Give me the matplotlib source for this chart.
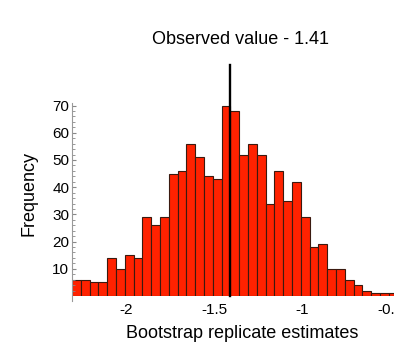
import numpy as np
import matplotlib
matplotlib.use("Agg")
import matplotlib.pyplot as plt
from matplotlib.ticker import FixedLocator

plt.rcParams['font.family'] = ['Liberation Sans', 'DejaVu Sans']

# histogram counts (bin width 0.05, first edge -2.31)
bin_start = -2.31
bin_width = 0.05
counts = [6, 6, 5, 5, 14, 10, 15, 14, 29, 26, 29, 45, 46, 56, 51, 44, 43, 70,
          68, 52, 56, 52, 34, 46, 35, 42, 29, 18, 19, 10, 10, 6, 4, 2, 1, 1, 1]
observed = -1.41
yticks = [10, 20, 30, 40, 50, 60, 70]
xticks = [-2, -1.5, -1, -0.5]
xticklabels = ['-2', '-1.5', '-1', '-0.5']

edges = bin_start + bin_width * np.arange(len(counts) + 1)

fig = plt.figure(figsize=(3.94, 3.47), dpi=100)
ax = fig.add_axes([72/394, 51/347, 1 - 72/394, 85*2.72/347])

ax.bar(edges[:-1], counts, width=bin_width, align='edge',
       color='#ff2200', edgecolor='#3a1a10', linewidth=0.8)
ax.plot([observed, observed], [0, 85], color='black', lw=1.7, clip_on=False)

ax.set_xlim(bin_start, -0.48)
ax.set_ylim(0, 85)

for s in ['top', 'right', 'bottom']:
    ax.spines[s].set_visible(False)
ax.spines['left'].set_color('#999999')
ax.spines['left'].set_bounds(-2, 70.8)

ax.set_yticks(yticks)
ax.yaxis.set_minor_locator(FixedLocator([v for v in range(2, 71, 2) if v % 10]))
ax.tick_params(axis='y', which='major', direction='in', length=3, color='#888888',
               labelsize=11, pad=2)
ax.tick_params(axis='y', which='minor', direction='in', length=1.8, color='#888888')
ax.set_xticks(xticks)
ax.set_xticklabels(xticklabels)
ax.tick_params(axis='x', length=0, labelsize=11, pad=5)

fig.text(242/394, 1 - 333/347, 'Bootstrap replicate estimates', ha='center', va='center', fontsize=13)
fig.text(29/394, 1 - 193/347, 'Frequency', ha='center', va='center', rotation=90, fontsize=13)
fig.text(240/394, 1 - 39/347, 'Observed value - 1.41', ha='center', va='center', fontsize=13)

fig.savefig('out.png', dpi=100)
